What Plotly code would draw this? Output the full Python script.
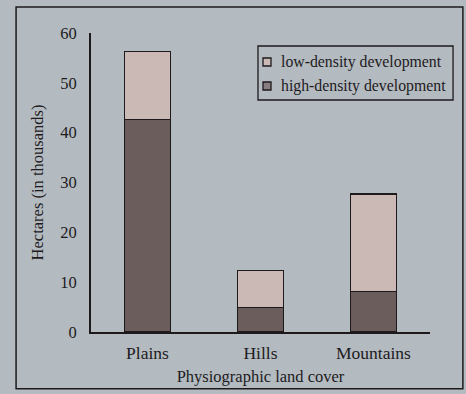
import plotly.graph_objects as go

categories = ["Plains", "Hills", "Mountains"]
high_density = [42.7, 4.9, 8.1]
low_density = [13.6, 7.4, 19.6]
y_ticks = [0, 10, 20, 30, 40, 50, 60]
series_names = ["low-density development", "high-density development"]

BG = "#b3bbc1"
INK = "#1e1a1c"
FONT = "Liberation Serif"
HIGH = "#6a5d5c"
LOW = "#cbb9b5"

fig = go.Figure()
fig.add_trace(go.Bar(
    x=categories, y=high_density, name=series_names[1],
    marker=dict(color=HIGH, line=dict(color=INK, width=1.2)),
    width=0.41, showlegend=False,
))
fig.add_trace(go.Bar(
    x=categories, y=low_density, name=series_names[0],
    marker=dict(color=LOW, line=dict(color=INK, width=1.2)),
    width=0.41, showlegend=False,
))

# custom legend (box, swatches, labels) in paper coordinates
shapes = [
    dict(type="rect", xref="paper", yref="paper",
         x0=-0.221, x1=1.097, y0=-0.19, y1=1.087,
         line=dict(color=INK, width=1.5)),
    dict(type="rect", xref="paper", yref="paper",
         x0=0.4926, x1=1.068, y0=0.776, y1=0.9565,
         line=dict(color=INK, width=1.3)),
    dict(type="rect", xref="paper", yref="paper",
         x0=0.5074, x1=0.5310, y0=0.8896, y1=0.9164,
         fillcolor=LOW, line=dict(color=INK, width=1.3)),
    dict(type="rect", xref="paper", yref="paper",
         x0=0.5074, x1=0.5310, y0=0.8094, y1=0.8361,
         fillcolor="#8a7f80", line=dict(color=INK, width=1.3)),
]
annotations = [
    dict(xref="paper", yref="paper", x=0.5546, y=0.903, text=series_names[0],
         showarrow=False, xanchor="left", yanchor="middle",
         font=dict(family=FONT, size=15.8, color=INK)),
    dict(xref="paper", yref="paper", x=0.5546, y=0.8227, text=series_names[1],
         showarrow=False, xanchor="left", yanchor="middle",
         font=dict(family=FONT, size=15.8, color=INK)),
]

fig.update_layout(
    barmode="stack",
    width=466, height=394,
    margin=dict(l=91, r=36, t=33, b=62, autoexpand=False),
    paper_bgcolor=BG, plot_bgcolor=BG,
    font=dict(family=FONT, size=16, color=INK),
    showlegend=False,
    xaxis=dict(
        range=[-0.5, 2.5], showgrid=False, showline=True, linecolor=INK, linewidth=1.5,
        ticks="", tickfont=dict(size=17.5), ticklabelstandoff=4,
        title=dict(text="Physiographic land cover", font=dict(size=16.5), standoff=9),
    ),
    yaxis=dict(
        range=[0, 60], tickvals=y_ticks, showgrid=False, showline=True, linecolor=INK,
        linewidth=2, ticks="", zeroline=False, ticklabelstandoff=9,
        tickfont=dict(size=16.5),
        title=dict(text="Hectares (in thousands)", font=dict(size=16.5), standoff=12),
    ),
    shapes=shapes,
    annotations=annotations,
)

fig.write_html("out.html", config={"displayModeBar": False},
               post_script="document.body.style.margin='0';")
